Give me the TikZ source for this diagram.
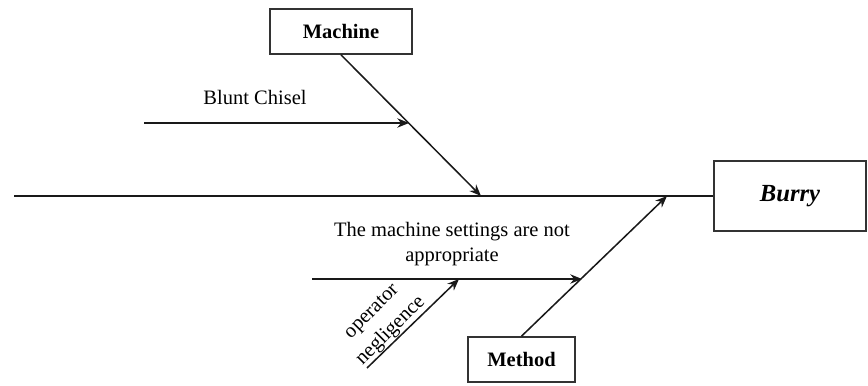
\documentclass[tikz,border=0pt]{standalone}
\usepackage{fontspec}
\setmainfont{Liberation Serif}
\usetikzlibrary{arrows.meta}

\begin{document}
\begin{tikzpicture}[x=0.03cm, y=-0.03cm,
    box/.style={rectangle, draw=black!80, fill=white, line width=1.4pt, inner sep=0pt, font=\fontsize{17.5}{21}\selectfont\bfseries},
    bone/.style={line width=1.6pt, draw=black!90},
    arrow/.style={-{Stealth[length=10pt, width=8pt]}, line width=1.3pt, draw=black!90},
    lbl/.style={font=\fontsize{17.5}{21}\selectfont, align=center, inner sep=0pt}
]
\useasboundingbox (0,0) rectangle (868,385);

% Head and categories
\node[box, minimum width=4.56cm, minimum height=2.1cm, font=\fontsize{21}{25}\selectfont\bfseries\itshape] (burry) at (790,196) {Burry};
\node[box, minimum width=4.26cm, minimum height=1.35cm] (machine) at (341,31.5) {Machine};
\node[box, minimum width=3.21cm, minimum height=1.35cm] (method) at (521.5,359.5) {Method};

% Points on the bones
\coordinate (tail) at (14,196);
\coordinate (mch) at (481,196);
\coordinate (mth) at (667,196);
\coordinate (chisel) at (144,123);
\coordinate (chiselhit) at (409,123);
\coordinate (setting) at (312,279);
\coordinate (settinghit) at (582,279);
\coordinate (operator) at (367,368);
\coordinate (operatorhit) at (459,279);

% Spine
\draw[bone] (tail) -- (burry.west);

% Category bones
\draw[arrow] (machine.south) -- (mch);
\draw[arrow] (method.north) -- (mth);

% Causes
\draw[arrow] (chisel) -- (chiselhit);
\draw[arrow] (setting) -- (settinghit);
\draw[arrow] (operator) -- (operatorhit);

\node[lbl] (chisellbl) at (255,97) {Blunt Chisel};
\node[lbl] (settinglbl) at (452,244) {The machine settings are not\\appropriate};
\node[lbl, rotate=45, font=\fontsize{17.5}{23}\selectfont] (operatorlbl) at (382,322) {operator\\negligence};
\end{tikzpicture}
\end{document}
